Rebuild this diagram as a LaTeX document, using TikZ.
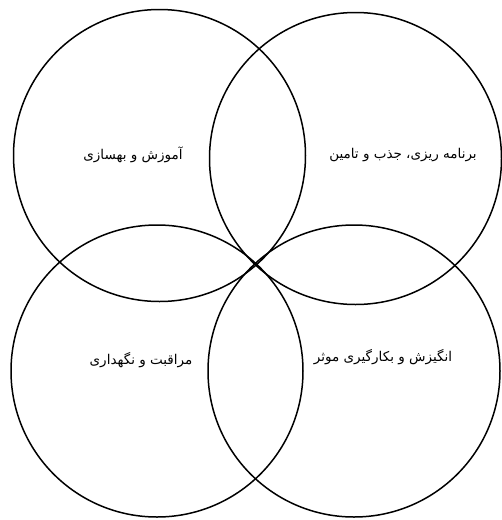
\documentclass[tikz,border=0pt]{standalone}
\usepackage{fontspec}
\usetikzlibrary{positioning}
\TeXXeTstate=1
\newfontfamily\arabicfont[Script=Arabic]{DejaVu Sans}

\begin{document}
\begin{tikzpicture}[x=1pt,y=-1pt,
        ring/.style={draw,circle,line width=1.5pt,minimum size=292pt,inner sep=0pt},
        lbl/.style={font=\arabicfont\fontsize{13.5}{16}\selectfont,inner sep=0pt}]
        \useasboundingbox (0,0) rectangle (502,520);
        \node[ring] (plan) at (355.5,158.5) {};
        \node[ring] (train) at (159.5,155.5) {};
        \node[ring] (care) at (157,371) {};
        \node[ring] (motiv) at (354,371) {};
        \node[lbl] (trainlbl) at (133,155) {\beginR آموزش و بهسازی\endR};
        \node[lbl] (planlbl) at (403,155) {\beginR برنامه ریزی، جذب و تامین\endR};
        \node[lbl] (carelbl) at (141,360) {\beginR مراقبت و نگهداری\endR};
        \node[lbl] (motivlbl) at (383,357) {\beginR انگیزش و بکارگیری موثر\endR};
      \end{tikzpicture}
\end{document}
